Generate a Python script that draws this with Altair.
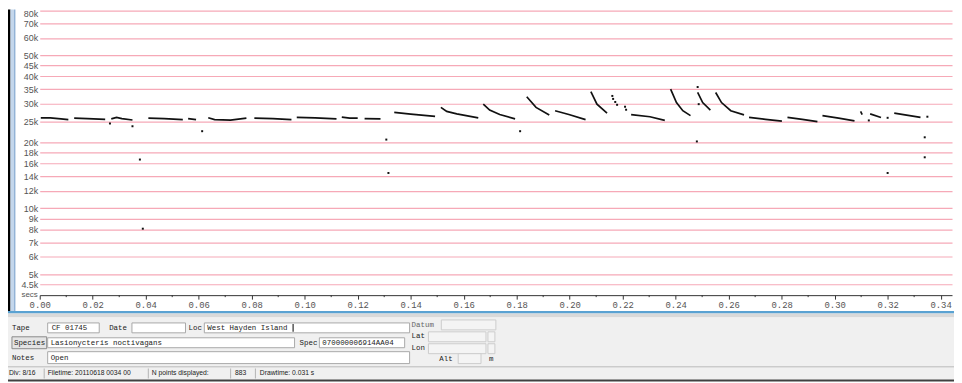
import altair as alt
import pandas as pd

# ---------------- data ----------------
# each call: list of times (s) and list of frequencies (kHz)
call_times = [
    [0.0004, 0.004, 0.008, 0.0108],
    [0.013, 0.018, 0.0247],
    [0.027, 0.029, 0.031, 0.035],
    [0.041, 0.047, 0.054],
    [0.056, 0.059],
    [0.0636, 0.066, 0.072, 0.078],
    [0.081, 0.088, 0.095],
    [0.097, 0.104, 0.112],
    [0.114, 0.117, 0.120],
    [0.1226, 0.1286],
    [0.1338, 0.140, 0.1492],
    [0.1514, 0.1536, 0.1574, 0.1655],
    [0.1674, 0.1698, 0.1736, 0.1794],
    [0.1838, 0.1873, 0.1923],
    [0.1945, 0.1997, 0.206],
    [0.208, 0.2103, 0.2141],
    [0.2232, 0.2303, 0.2359],
    [0.2381, 0.2403, 0.2427, 0.2456],
    [0.2483, 0.2502, 0.2531],
    [0.2551, 0.2573, 0.2608, 0.2658],
    [0.2677, 0.2739, 0.2801],
    [0.2822, 0.2878, 0.2935],
    [0.2954, 0.3015, 0.3075],
    [0.3098, 0.3104],
    [0.3134, 0.3175],
    [0.3225, 0.3324],
]
call_freqs = [
    [25.9, 25.9, 25.6, 25.4],
    [25.8, 25.7, 25.5],
    [25.6, 26.0, 25.7, 25.3],
    [25.8, 25.7, 25.4],
    [25.7, 25.4],
    [25.9, 25.4, 25.3, 25.8],
    [25.8, 25.7, 25.4],
    [26.0, 25.9, 25.6],
    [26.1, 25.8, 25.8],
    [25.7, 25.6],
    [27.4, 26.9, 26.3],
    [28.9, 27.7, 27.0, 25.9],
    [29.9, 28.1, 26.8, 25.6],
    [32.3, 28.9, 26.7],
    [27.9, 26.8, 25.4],
    [34.1, 29.9, 27.2],
    [26.8, 26.2, 25.2],
    [35.0, 30.4, 27.9, 26.5],
    [33.8, 30.4, 28.1],
    [33.8, 30.4, 27.9, 26.7],
    [26.0, 25.5, 25.0],
    [26.0, 25.5, 24.9],
    [26.5, 25.8, 25.1],
    [27.7, 26.8],
    [27.0, 26.0],
    [27.2, 26.0],
]
# isolated points
dot_times = [0.0265, 0.035, 0.0613, 0.0378, 0.0389, 0.1308, 0.1316, 0.1813,
             0.2161, 0.2164, 0.2172, 0.2179, 0.2209, 0.2213,
             0.2483, 0.2487, 0.248, 0.3129, 0.32, 0.335, 0.334, 0.334, 0.32]
dot_freqs = [24.4, 23.7, 22.5, 16.7, 8.07, 20.6, 14.5, 22.5,
             32.6, 31.6, 30.6, 29.7, 29.1, 28.2,
             35.8, 29.9, 20.2, 25.2, 25.9, 26.2, 21.1, 17.1, 14.5]

grid_khz = [4.5, 5, 6, 7, 8, 9, 10, 12, 14, 16, 18, 20, 25, 30, 35, 40, 45, 50, 60, 70, 80]
major_secs = [0.00, 0.02, 0.04, 0.06, 0.08, 0.10, 0.12, 0.14, 0.16,
              0.18, 0.20, 0.22, 0.24, 0.26, 0.28, 0.30, 0.32, 0.34]
minor_secs = [0.01, 0.03, 0.05, 0.07, 0.09, 0.11, 0.13, 0.15, 0.17,
              0.19, 0.21, 0.23, 0.25, 0.27, 0.29, 0.31, 0.33]

# ---------------- tables ----------------
rows = []
for i, (ts, fs) in enumerate(zip(call_times, call_freqs)):
    for t, f in zip(ts, fs):
        rows.append({"call": i, "t": t, "f": f})
calls_df = pd.DataFrame(rows)
dots_df = pd.DataFrame({"t": dot_times, "f": dot_freqs})
minor_df = pd.DataFrame({"t": minor_secs})

W, H = 920, 288
xscale = alt.Scale(domain=[0, 0.3443], nice=False, zero=False)
yscale = alt.Scale(type="log", domain=[4.012, 80.84], nice=False)

X_enc = alt.X("t:Q", scale=xscale, axis=alt.Axis(
    values=major_secs, format=".2f", title=None, grid=False,
    tickSize=4, tickColor="#333", domainColor="#333", domainWidth=1,
    labelFont="Liberation Mono", labelFontSize=9, labelColor="#555",
    labelPadding=1, labelFlush=False, labelOverlap=False))
Y_enc = alt.Y("f:Q", scale=yscale, axis=alt.Axis(
    values=grid_khz, labelExpr="datum.value + 'k'", title=None,
    grid=True, gridColor="#f6a9b7", gridWidth=1.2, domain=False, ticks=False,
    labelPadding=2, labelFont="Liberation Sans", labelFontSize=9,
    labelColor="#555", labelOverlap=False, labelFlush=2, labelFlushOffset=1))

calls = alt.Chart(calls_df).mark_line(color="#111", strokeWidth=1.7).encode(
    x=X_enc, y=Y_enc, detail="call:N")
dots = alt.Chart(dots_df).mark_square(size=4, color="#111", opacity=1).encode(
    x=X_enc, y=Y_enc)
minor = alt.Chart(minor_df).mark_rule(color="#333").encode(
    x=X_enc, y=alt.value(H), y2=alt.value(H + 2))

# ---------------- window chrome (page coords -> plot coords) ----------------
OX, OY = 40, 8
one = alt.Data(values=[{}])


def box(x1, y1, x2, y2, fill="#ffffff", stroke=None):
    kw = {"fill": fill}
    if stroke:
        kw.update(stroke=stroke, strokeWidth=1)
    else:
        kw.update(strokeWidth=0)
    return alt.Chart(one).mark_rect(**kw).encode(
        x=alt.value(x1 - OX), x2=alt.value(x2 - OX),
        y=alt.value(y1 - OY), y2=alt.value(y2 - OY))


def label(txt, x, y, size=7.5, font="Liberation Mono", color="#222", align="left"):
    return alt.Chart(one).mark_text(
        text=txt, font=font, fontSize=size, color=color, align=align,
        baseline="middle").encode(x=alt.value(x - OX), y=alt.value(y - OY))


FB = "#a8a8a8"
chrome = [
    box(8, 8, 10.5, 312, "#000000"),
    box(10.5, 8, 14, 312, "#c4d7ec"),
    box(14, 8, 15.5, 312, "#93b3d6"),
    box(8, 312, 962, 314.5, "#5aa2d2"),
    box(8, 314.5, 962, 318.5, "#d9d9d9"),
    box(8, 318.5, 962, 368, "#f0f0f0"),
    box(8, 368, 962, 369, "#a0a0a0"),
    box(8, 369, 962, 381, "#f0f0f0"),
    box(8, 381, 962, 383, "#404040"),
    # row 1
    box(48, 324, 100, 334, "#ffffff", FB),
    box(133, 324, 187, 334, "#ffffff", FB),
    box(206, 324, 413, 334, "#ffffff", FB),
    box(295, 325, 296, 333, "#000000"),
    box(445, 321, 500, 331, "#f4f4f4", "#cccccc"),
    # row 2
    box(12, 338, 47, 350, "#e4e4e4", "#8a8a8a"),
    box(48, 339, 297, 349, "#ffffff", FB),
    box(322, 339, 408, 349, "#ffffff", FB),
    box(432, 333, 490, 343, "#f4f4f4", "#cccccc"),
    box(492, 333, 499, 343, "#f4f4f4", "#cccccc"),
    box(432, 345, 490, 355, "#f4f4f4", "#cccccc"),
    box(492, 345, 499, 355, "#f4f4f4", "#cccccc"),
    # row 3
    box(48, 353, 413, 365, "#ffffff", FB),
    box(462, 355, 485, 365, "#f4f4f4", "#cccccc"),
    # status separators
    box(44, 370, 45, 380, "#b4b4b4"),
    box(149, 370, 150, 380, "#b4b4b4"),
    box(232, 370, 233, 380, "#b4b4b4"),
    box(257, 370, 258, 380, "#b4b4b4"),
]
texts = [
    label("secs", 38, 296, size=8, font="Liberation Sans", color="#555", align="right"),
    label("Tape", 12, 329), label("CF 01745", 52, 329),
    label("Date", 110, 329), label("Loc", 190, 329),
    label("West Hayden Island", 209, 329),
    label("Datum", 415, 326, color="#666"),
    label("Species", 14, 344), label("Lasionycteris noctivagans", 51, 344),
    label("Spec", 302, 344), label("070000006914AA04", 325, 344),
    label("Lat", 415, 337), label("Lon", 415, 349),
    label("Notes", 12, 359), label("Open", 51, 359),
    label("Alt", 443, 360), label("m", 493, 360),
    label("Div: 8/16", 9, 375, size=6.8, font="Liberation Sans"),
    label("Filetime: 20110618 0034 00", 48, 375, size=6.8, font="Liberation Sans"),
    label("N points displayed:", 153, 375, size=6.8, font="Liberation Sans"),
    label("883", 237, 375, size=6.8, font="Liberation Sans"),
    label("Drawtime: 0.031 s", 262, 375, size=6.8, font="Liberation Sans"),
]

chart = alt.layer(*chrome, minor, calls, dots, *texts).properties(
    width=W, height=H,
    padding={"left": 32, "top": 0, "right": 2, "bottom": 87},
    autosize=alt.AutoSizeParams(type="none"),
    background="#ffffff",
).configure_view(stroke=None)

chart.save("out.html", embed_options={"renderer": "svg", "actions": False})
